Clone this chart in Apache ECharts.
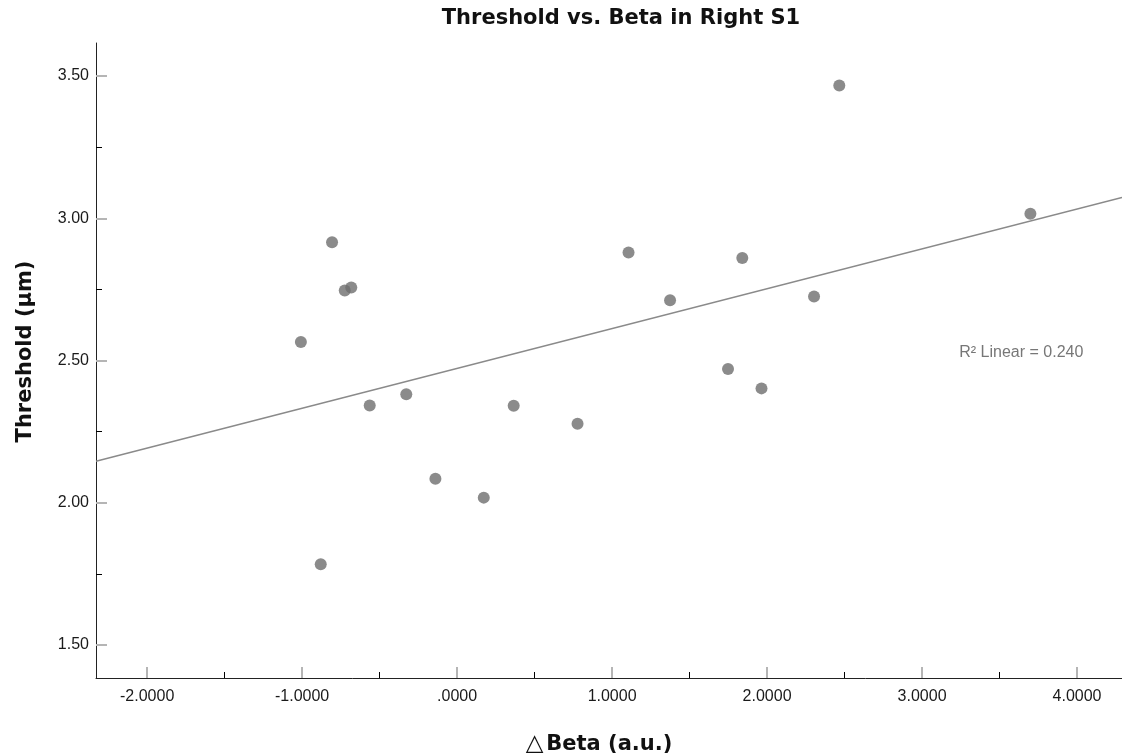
<!DOCTYPE html>
<html><head><meta charset="utf-8">
<script src="https://cdn.jsdelivr.net/npm/echarts@6/dist/echarts.min.js"></script>
<style>html,body{margin:0;padding:0;background:#fff}#c{width:1122px;height:755px}</style>
</head><body><div id="c"></div>
<script>
// ---- data ----
const betaValues = [-1.008, -0.880, -0.807, -0.725, -0.683, -0.564, -0.328, -0.140, 0.172, 0.365, 0.777, 1.106, 1.374, 1.748, 1.840, 1.964, 2.303, 2.466, 3.699];
const thresholdValues = [2.565, 1.784, 2.916, 2.746, 2.757, 2.342, 2.381, 2.084, 2.018, 2.341, 2.278, 2.880, 2.712, 2.470, 2.860, 2.402, 2.725, 3.467, 3.016];
const fitLineX = [-2.33, 4.29];
const fitLineY = [2.146, 3.073];
const xMajorTicks = [-2, -1, 0, 1, 2, 3, 4];
const xMinorTicks = [-1.5, -0.5, 0.5, 1.5, 2.5, 3.5];
const yMajorTicks = [1.5, 2.0, 2.5, 3.0, 3.5];
const yMinorTicks = [1.75, 2.25, 2.75, 3.25];
const xRange = [-2.33, 4.29];
const yRange = [1.384, 3.616];
const titleText = 'Threshold vs. Beta in Right S1';
const xAxisName = '{t|△}Beta (a.u.)';
const yAxisName = 'Threshold (μm)';
const rSquaredText = 'R² Linear = 0.240';

// ---- chart ----
const scatterData = betaValues.map((x, i) => [x, thresholdValues[i]]);
const fitData = fitLineX.map((x, i) => [x, fitLineY[i]]);
const labelFont = 'Liberation Sans, Arial, sans-serif';
const boldFont = 'DejaVu Sans, sans-serif';
const fmtX = v => (Math.abs(v) < 1e-9 ? '.0000' : v.toFixed(4));
const fmtY = v => v.toFixed(2);

const chart = echarts.init(document.getElementById('c'), null, {renderer: 'canvas'});
const option = {
  animation: false,
  backgroundColor: '#ffffff',
  title: {
    text: titleText, left: 621, top: 8, textAlign: 'center', padding: 0,
    textStyle: {fontFamily: boldFont, fontWeight: 'bold', fontSize: 21, color: '#111'}
  },
  grid: {left: 96, right: 0, top: 43, bottom: 77, containLabel: false, outerBoundsMode: 'none'},
  xAxis: [{
    type: 'value', min: xRange[0], max: xRange[1], position: 'bottom',
    axisLine: {show: true, onZero: false, lineStyle: {color: '#222', width: 1}},
    axisTick: {show: true, inside: true, length: 11, customValues: xMajorTicks, lineStyle: {color: '#b5b5b5', width: 2}},
    axisLabel: {show: true, customValues: xMajorTicks, formatter: fmtX, margin: 11, fontFamily: labelFont, fontSize: 16, color: '#1a1a1a', showMinLabel: true, showMaxLabel: true},
    splitLine: {show: false},
    name: xAxisName, nameLocation: 'middle', nameGap: 55,
    nameTextStyle: {fontFamily: boldFont, fontWeight: 'bold', fontSize: 21, lineHeight: 24, color: '#111', padding: [0, 20, 0, 0],
      rich: {t: {fontFamily: 'DejaVu Sans', fontWeight: 'normal', fontSize: 23, lineHeight: 16, verticalAlign: 'top', color: '#111', padding: [0, 3, 0, 0]}}}
  }, {
    type: 'value', min: xRange[0], max: xRange[1], position: 'bottom',
    axisLine: {show: false, onZero: false},
    axisTick: {show: true, inside: true, length: 6, customValues: xMinorTicks, lineStyle: {color: '#000', width: 1}},
    axisLabel: {show: false}, splitLine: {show: false}
  }],
  yAxis: [{
    type: 'value', min: yRange[0], max: yRange[1], position: 'left',
    axisLine: {show: true, onZero: false, lineStyle: {color: '#222', width: 1}},
    axisTick: {show: true, inside: true, length: 11, customValues: yMajorTicks, lineStyle: {color: '#b5b5b5', width: 2}},
    axisLabel: {show: true, customValues: yMajorTicks, formatter: fmtY, margin: 7, fontFamily: labelFont, fontSize: 16, color: '#1a1a1a'},
    splitLine: {show: false},
    name: yAxisName, nameLocation: 'middle', nameGap: 60, nameRotate: 90,
    nameTextStyle: {fontFamily: boldFont, fontWeight: 'bold', fontSize: 21, color: '#111', padding: [0, 0, 0, 18]}
  }, {
    type: 'value', min: yRange[0], max: yRange[1], position: 'left',
    axisLine: {show: false, onZero: false},
    axisTick: {show: true, inside: true, length: 6, customValues: yMinorTicks, lineStyle: {color: '#000', width: 1}},
    axisLabel: {show: false}, splitLine: {show: false}
  }],
  series: [{
    type: 'line', xAxisIndex: 0, yAxisIndex: 0, data: fitData,
    symbol: 'none', lineStyle: {color: '#8a8a8a', width: 1.5}, silent: true, z: 2,
    markPoint: {
      symbol: 'circle', symbolSize: 0, silent: true,
      label: {show: true, position: 'right', distance: 0, formatter: rSquaredText, fontFamily: labelFont, fontSize: 16, color: '#777'},
      data: [{coord: [3.24, 2.528]}]
    }
  }, {
    type: 'scatter', xAxisIndex: 0, yAxisIndex: 0, data: scatterData,
    symbol: 'circle', symbolSize: 12, itemStyle: {color: '#6e6e6e'}, z: 3
  }]
};
chart.setOption(option);
</script>
</body></html>
